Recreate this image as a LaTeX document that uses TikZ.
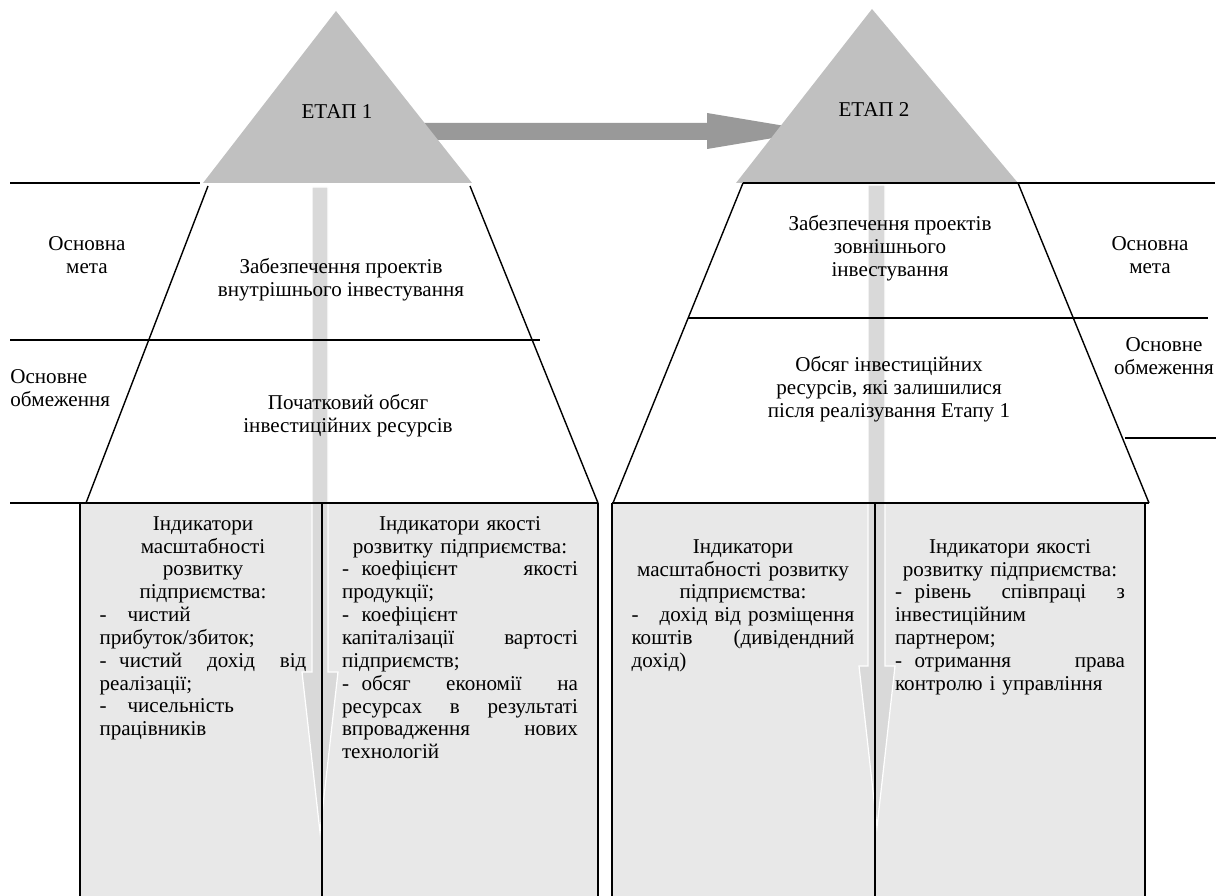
\documentclass[tikz,border=0pt]{standalone}
\usepackage{fontspec}
\setmainfont{Liberation Serif}
\usepackage{tikz}
\usetikzlibrary{positioning}

\definecolor{stagegray}{HTML}{C0C0C0}
\definecolor{flowgray}{HTML}{999999}
\definecolor{downgray}{HTML}{D9D9D9}
\definecolor{cellgray}{HTML}{E8E8E8}

\newlength{\cellw}
\newcommand{\bxjust}[1]{\makebox[\cellw][s]{\spaceskip=.3333em plus 1fil\relax #1}}
\newcommand{\bxleft}[1]{\makebox[\cellw][l]{#1}}
\newcommand{\dsh}{-\hspace{.6em}}

\begin{document}
\begin{tikzpicture}[
        x=0.02cm, y=-0.02cm,
        edge/.style={draw, line width=0.8pt},
        txt/.style={align=center, inner sep=0pt, font=\fontsize{12}{13}\selectfont},
        cellnote/.style={txt, anchor=north, text width=#1,
            execute at begin node={\setlength{\cellw}{#1}}},
        downarrow/.style={fill=downgray, draw=white, line width=0.7pt}
    ]
        \useasboundingbox (0,0) rectangle (1229,895);

        % key points of both stages
        \coordinate (apexA) at (336,11);
        \coordinate (baseAl) at (203,183);
        \coordinate (baseAr) at (472,183);
        \coordinate (apexB) at (872,9);
        \coordinate (baseBl) at (736,183);
        \coordinate (baseBr) at (1018,183);

        % transition stage 1 -> stage 2 (behind the triangles)
        \fill[flowgray] (420,123) -- (707,123) -- (707,113) -- (815,131)
            -- (707,149) -- (707,140) -- (420,140) -- cycle;

        % stage triangles
        \fill[stagegray] (apexA) -- (baseAr) -- (baseAl) -- cycle;
        \fill[stagegray] (apexB) -- (baseBr) -- (baseBl) -- cycle;
        \node[txt] (stageA) at (337,112) {ЕТАП 1};
        \node[txt] (stageB) at (874,110) {ЕТАП 2};

        % indicator cells
        \fill[cellgray] (80,503) rectangle (598,900);
        \fill[cellgray] (612,503) rectangle (1145,900);

        % downward arrows
        \filldraw[downarrow] (312,187) -- (328,187) -- (328,672) -- (338,672)
            -- (320,832) -- (302,672) -- (312,672) -- cycle;
        \filldraw[downarrow] (868,185) -- (885,185) -- (885,666) -- (895,666)
            -- (877,827) -- (859,666) -- (868,666) -- cycle;

        % trapezoids and levels
        \draw[edge] (10,183) -- (200,183);
        \draw[edge] (743,183) -- (1215,183);
        \draw[edge] (208,186) -- (86,503);
        \draw[edge] (470,186) -- (598,503);
        \draw[edge] (743,183) -- (613,503);
        \draw[edge] (1018,183) -- (1149,503);
        \draw[edge] (10,340) -- (540,340);
        \draw[edge] (688,318) -- (1208,318);
        \draw[edge] (1125,438) -- (1216,438);
        \draw[edge] (10,503) -- (598,503);
        \draw[edge] (612,503) -- (1149,503);

        % cell borders
        \foreach \x in {80,322,598,612,875,1145}
            \draw[edge] (\x,503) -- (\x,900);

        % side labels
        \node[txt] (goalA) at (87,255) {Основна\\мета};
        \node[txt, align=left, anchor=west] (limitA) at (10,388) {Основне\\обмеження};
        \node[txt] (goalB) at (1150,255) {Основна\\мета};
        \node[txt] (limitB) at (1164,356) {Основне\\обмеження};

        % trapezoid contents
        \node[txt] (aimA) at (341,280) {Забезпечення проектів\\внутрішнього інвестування};
        \node[txt] (resA) at (348,416) {Початковий обсяг\\інвестиційних ресурсів};
        \node[txt] (aimB) at (890,248) {Забезпечення проектів\\зовнішнього\\інвестування};
        \node[txt] (resB) at (889,389) {Обсяг інвестиційних\\ресурсів, які залишилися\\після реалізування Етапу 1};

        % indicators
        \node[cellnote=4.14cm] (scaleA) at (203,516) {Індикатори\\масштабності\\розвитку\\підприємства:\\
            \bxleft{-\ \ \ чистий}\\\bxleft{прибуток/збиток;}\\\bxjust{\dsh чистий дохід від}\\
            \bxleft{реалізації;}\\\bxleft{-\ \ \ чисельність}\\\bxleft{працівників}};
        \node[cellnote=4.72cm] (qualA) at (460,516) {Індикатори якості\\розвитку підприємства:\\
            \bxjust{\dsh коефіцієнт якості}\\\bxleft{продукції;}\\\bxleft{\dsh коефіцієнт}\\
            \bxjust{капіталізації вартості}\\\bxleft{підприємств;}\\\bxjust{\dsh обсяг економії на}\\
            \bxjust{ресурсах в результаті}\\\bxjust{впровадження нових}\\\bxleft{технологій}};
        \node[cellnote=4.46cm] (scaleB) at (743,539) {Індикатори\\масштабності розвитку\\підприємства:\\
            \bxleft{-\ \ \ дохід від розміщення}\\\bxjust{коштів (дивідендний}\\\bxleft{дохід)}};
        \node[cellnote=4.6cm] (qualB) at (1010,539) {Індикатори якості\\розвитку підприємства:\\
            \bxjust{\dsh рівень співпраці з}\\\bxleft{інвестиційним}\\\bxleft{партнером;}\\
            \bxjust{\dsh отримання права}\\\bxleft{контролю і управління}};
    \end{tikzpicture}
\end{document}
